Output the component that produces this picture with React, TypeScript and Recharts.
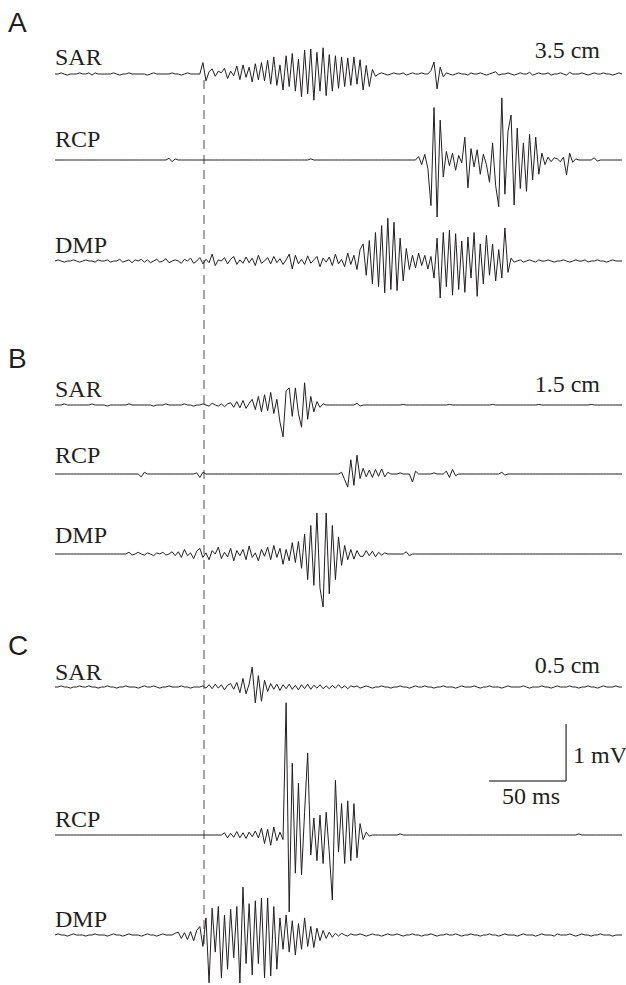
import React from 'react';
import { LineChart, Line, XAxis, YAxis, ReferenceLine } from 'recharts';

// ---- sampling ----
const DT_MS = 2; // one sample every 2 ms
const T_END = 368; // ms shown
const PX_PER_MV = 57;

// ---- EMG traces (mV), one value per 2 ms ----
const sarA = [
  0, 0, .02, 0, -.02, 0, 0, 0, .02, 0,
  0, .02, -.02, .02, 0, 0, 0, 0, 0, .02,
  0, -.02, 0, 0, .02, 0, 0, 0, 0, 0,
  -.02, 0, .02, 0, 0, 0, 0, 0, .02, 0,
  0, -.02, 0, .02, 0, 0, 0, 0, .2, -.12,
  .04, .09, -.04, .05, .02, .1, -.08, .05, -.03, .14,
  -.1, .16, -.06, .12, -.14, .18, -.1, .2, -.12, .24,
  -.18, .3, -.2, .16, -.28, .32, -.22, .36, -.3, .26,
  -.4, .42, -.35, .44, -.46, .38, -.3, .46, -.38, .34,
  -.3, .32, -.25, .3, -.22, .28, -.2, .3, -.18, .25,
  -.28, .15, -.22, .08, -.04, 0, .02, 0, -.02, 0,
  .02, 0, 0, .02, -.02, 0, .02, 0, 0, .02,
  0, 0, .06, .21, -.26, .12, -.05, .02, 0, -.02,
  0, .02, 0, 0, -.02, .02, 0, 0, .02, 0,
  -.02, 0, .02, .04, -.02, 0, 0, .02, 0, -.02,
  0, .02, 0, 0, .03, -.02, 0, .02, 0, 0,
  .02, -.02, 0, 0, .02, 0, -.02, .03, 0, 0,
  0, .02, 0, -.02, 0, .02, 0, 0, .02, 0,
  0, -.02, 0, .02, 0,
];

const rcpA = [
  0, 0, 0, 0, 0, 0, 0, 0, 0, 0,
  0, 0, 0, 0, 0, 0, 0, 0, 0, 0,
  0, 0, 0, 0, 0, 0, 0, 0, 0, 0,
  0, 0, 0, 0, 0, 0, 0, .03, -.03, .02,
  0, 0, 0, 0, 0, 0, 0, 0, 0, 0,
  0, 0, 0, 0, 0, 0, 0, 0, 0, 0,
  0, 0, 0, 0, 0, 0, 0, 0, 0, 0,
  0, 0, 0, 0, 0, 0, 0, 0, 0, 0,
  0, 0, 0, .02, 0, 0, 0, 0, 0, 0,
  0, 0, 0, 0, 0, 0, 0, 0, 0, 0,
  0, 0, 0, 0, 0, 0, 0, 0, 0, 0,
  0, 0, 0, 0, 0, 0, 0, 0, .06, -.08,
  .1, -.15, -.8, .92, -1.0, .7, -.3, .15, -.1, .12,
  -.18, .08, -.05, .4, -.49, .2, -.12, .18, -.25, .1,
  -.08, -.39, .3, -.45, -.82, 1.09, -.6, .5, .79, -.79,
  .56, -.5, .3, -.55, .45, -.35, .4, -.25, .12, -.08,
  .05, -.03, .04, .02, -.03, .05, -.26, .12, -.04, .02,
  0, 0, 0, 0, 0, .04, -.02, 0, 0, 0,
  0, 0, 0, 0, 0,
];

const dmpA = [
  0, .02, 0, -.02, 0, 0, .02, 0, -.02, 0,
  .02, 0, 0, -.02, .02, 0, 0, .02, -.02, 0,
  0, .03, -.02, 0, .02, -.03, .02, 0, .03, -.02,
  .02, -.03, 0, .03, -.02, 0, .04, -.03, 0, .02,
  0, -.04, .03, 0, .05, -.04, 0, .06, -.05, .03,
  -.03, .12, -.08, .02, 0, .06, -.05, .03, .08, -.06,
  .02, -.04, .07, -.03, .05, -.08, .1, -.04, 0, .06,
  -.05, .08, -.03, .04, -.06, .02, .12, -.14, .1, -.05,
  .03, -.06, .09, -.04, .02, .08, -.1, .05, -.02, .07,
  -.08, .12, -.05, .03, -.1, .14, -.06, .1, -.15, .2,
  .3, -.25, .36, -.4, .5, -.45, .62, -.56, .75, -.5,
  .68, -.52, .4, -.35, .22, -.15, .1, -.12, .14, -.08,
  .1, -.14, .08, -.3, .4, -.65, .5, -.45, .54, -.6,
  .48, -.5, .35, -.55, .42, -.3, .5, -.62, .3, -.4,
  .45, -.25, .3, -.35, .2, -.3, .58, -.2, .05, -.02,
  0, .02, -.02, 0, .02, 0, -.02, .02, 0, 0,
  .02, 0, -.02, 0, 0, .02, 0, -.02, 0, .02,
  0, 0, .02, -.02, 0, 0, .02, 0, 0, -.02,
  0, .02, 0, 0, 0,
];

const sarB = [
  0, 0, 0, .02, 0, 0, 0, 0, 0, 0,
  0, 0, .02, 0, 0, 0, 0, -.02, 0, 0,
  0, 0, 0, 0, .02, 0, 0, 0, 0, 0,
  0, 0, -.02, 0, 0, 0, .02, 0, 0, 0,
  0, 0, .02, 0, 0, -.02, 0, 0, .02, 0,
  -.02, .03, 0, -.02, .02, -.03, .02, .04, -.04, .06,
  -.05, .08, -.06, .03, .1, -.08, .15, -.12, .18, -.1,
  .22, -.15, .1, -.3, -.56, .25, .3, -.2, .3, -.15,
  -.39, .39, -.25, .15, -.12, .06, -.04, .02, 0, 0,
  0, 0, 0, 0, 0, 0, 0, 0, .03, -.02,
  0, 0, 0, 0, 0, 0, 0, 0, 0, 0,
  0, 0, 0, .01, 0, 0, 0, 0, 0, 0,
  0, 0, 0, 0, 0, 0, 0, 0, .01, 0,
  0, 0, 0, 0, 0, 0, 0, 0, 0, 0,
  0, 0, .01, 0, 0, 0, 0, 0, 0, 0,
  0, 0, 0, 0, 0, 0, 0, .01, 0, 0,
  0, 0, 0, 0, 0, 0, 0, 0, 0, 0,
  0, 0, 0, 0, .01, 0, 0, 0, 0, 0,
  0, 0, 0, 0, 0,
];

const rcpB = [
  0, 0, 0, 0, 0, 0, 0, 0, 0, 0,
  0, 0, 0, 0, 0, 0, 0, 0, 0, 0,
  0, 0, 0, 0, 0, 0, 0, 0, -.05, .03,
  0, 0, 0, 0, 0, 0, 0, 0, 0, 0,
  0, 0, 0, 0, 0, 0, .02, -.06, .03, 0,
  0, 0, 0, 0, 0, 0, 0, 0, 0, 0,
  0, 0, 0, 0, 0, 0, 0, 0, 0, 0,
  0, 0, 0, 0, 0, 0, 0, 0, 0, 0,
  0, 0, 0, 0, 0, 0, 0, 0, 0, 0,
  0, 0, 0, .03, -.1, -.23, .25, -.2, .33, -.08,
  .1, -.05, .07, -.06, .08, -.04, .09, -.05, .03, 0,
  0, 0, .02, 0, 0, 0, -.14, .05, 0, 0,
  0, 0, 0, .02, 0, 0, 0, .05, -.06, .08,
  -.03, 0, 0, 0, 0, 0, 0, 0, 0, 0,
  0, 0, 0, 0, 0, .03, -.02, 0, 0, 0,
  0, 0, 0, 0, 0, 0, 0, 0, 0, 0,
  0, 0, 0, 0, 0, 0, 0, 0, 0, 0,
  0, 0, 0, 0, 0, 0, 0, 0, 0, 0,
  0, 0, 0, 0, 0,
];

const dmpB = [
  0, 0, 0, 0, 0, 0, 0, 0, 0, 0,
  0, 0, 0, 0, 0, 0, 0, 0, 0, 0,
  0, 0, 0, 0, .03, -.02, 0, .03, 0, -.02,
  .02, 0, -.03, .02, 0, .03, -.02, 0, .04, -.03,
  .04, -.06, .08, -.03, .02, -.08, .05, .1, -.06, .02,
  -.1, .06, 0, .12, -.08, .03, -.05, .1, -.12, .06,
  -.03, .08, -.1, .14, -.06, .02, -.12, .08, -.04, .12,
  -.1, .15, -.06, .1, -.18, .08, -.12, .2, -.15, .22,
  -.25, .35, -.45, .5, -.55, .72, -.6, -.93, .72, -.7,
  .5, -.45, .3, -.2, .15, -.1, .08, -.09, .06, -.04,
  -.04, .06, -.03, .05, -.05, .03, -.02, .02, 0, 0,
  0, 0, 0, 0, .04, -.03, 0, 0, 0, 0,
  0, 0, 0, 0, 0, 0, 0, 0, 0, 0,
  0, 0, 0, 0, 0, 0, 0, 0, 0, 0,
  0, 0, 0, 0, 0, 0, 0, 0, 0, 0,
  0, 0, 0, 0, 0, 0, 0, 0, 0, 0,
  0, 0, 0, 0, 0, 0, 0, 0, 0, 0,
  0, 0, 0, 0, 0, 0, 0, 0, 0, 0,
  0, 0, 0, 0, 0,
];

const sarC = [
  0, 0, .02, 0, 0, -.02, 0, 0, .02, 0,
  0, .02, 0, 0, -.02, 0, 0, .02, 0, 0,
  -.02, 0, 0, .02, 0, 0, 0, -.02, 0, .02,
  0, 0, .02, 0, -.02, 0, 0, .02, 0, 0,
  0, .02, 0, 0, -.02, 0, 0, 0, .02, -.02,
  .04, -.03, .05, -.02, .04, -.05, .03, .06, -.04, .08,
  -.1, .15, -.12, .05, .35, -.28, .2, -.25, .12, -.08,
  .06, -.04, .05, -.06, .04, -.03, .05, -.04, .03, -.05,
  .04, -.03, .05, -.04, .03, -.02, .04, -.03, .02, -.03,
  .03, -.02, .04, -.02, .02, -.03, .02, 0, .02, -.02,
  0, .02, 0, -.02, 0, 0, .02, 0, 0, -.02,
  0, 0, .02, 0, 0, -.02, 0, .02, 0, 0,
  .02, 0, 0, -.02, 0, 0, .02, 0, 0, 0,
  -.02, 0, .02, 0, 0, 0, .02, 0, -.02, 0,
  0, .02, 0, 0, 0, -.02, 0, .02, 0, 0,
  0, 0, .02, 0, -.02, 0, 0, 0, .02, 0,
  0, -.02, 0, .02, 0, 0, 0, .02, 0, 0,
  -.02, 0, 0, .02, 0, 0, -.02, 0, .02, 0,
  0, 0, .02, 0, 0,
];

const rcpC = [
  0, 0, 0, 0, 0, 0, 0, 0, 0, 0,
  0, 0, 0, 0, 0, 0, 0, 0, 0, 0,
  0, 0, 0, 0, 0, 0, 0, 0, 0, 0,
  0, 0, 0, 0, 0, 0, 0, 0, 0, 0,
  0, 0, 0, 0, 0, 0, 0, 0, 0, 0,
  0, 0, 0, 0, 0, .04, -.05, .03, -.04, .06,
  -.05, .04, -.06, .05, -.03, .07, -.05, .12, -.15, .1,
  -.18, .14, -.1, .05, -.08, 2.32, -1.35, 1.26, -.67, .91,
  -.7, .4, 1.44, -.35, .3, -.45, .35, -.5, .4, -.3,
  -1.14, .96, -.3, .55, -.5, .6, -.45, .55, -.4, .2,
  -.08, .05, -.02, 0, 0, 0, 0, 0, 0, 0,
  0, 0, .02, 0, 0, 0, 0, 0, 0, 0,
  0, 0, 0, 0, 0, 0, 0, 0, 0, 0,
  0, 0, 0, 0, 0, 0, 0, 0, 0, 0,
  0, 0, 0, 0, 0, 0, 0, 0, 0, 0,
  0, 0, 0, 0, 0, 0, 0, 0, 0, 0,
  0, 0, 0, 0, 0, 0, 0, 0, 0, 0,
  .02, 0, 0, 0, 0, 0, 0, 0, 0, 0,
  0, 0, 0, 0, 0,
];

const dmpC = [
  0, .02, 0, 0, -.02, 0, .02, 0, 0, 0,
  -.02, 0, 0, .02, 0, 0, 0, -.02, 0, .02,
  0, 0, -.02, 0, .02, 0, 0, 0, -.02, 0,
  .02, 0, 0, -.02, 0, .02, 0, 0, 0, .03,
  .05, -.06, .04, -.08, .06, -.1, .08, .15, -.2, .3,
  -.84, .47, -.3, .5, -.75, .35, -.6, .45, -.4, .5,
  -.84, .84, -.5, .55, -.7, .6, -.5, .65, -.75, .65,
  -.72, .5, -.6, .3, -.25, .35, -.3, .25, -.35, .2,
  -.25, .3, -.2, .15, -.22, .12, -.1, .08, -.06, .05,
  -.04, .03, -.02, .03, 0, -.02, .02, 0, 0, .02,
  0, -.02, 0, .02, 0, 0, -.02, 0, .02, 0,
  0, .02, 0, -.02, 0, 0, .02, 0, 0, -.02,
  0, 0, .02, 0, -.02, 0, 0, .02, 0, 0,
  .02, 0, -.02, 0, 0, .02, 0, 0, -.02, 0,
  0, .02, 0, 0, -.02, 0, .02, 0, 0, 0,
  -.02, 0, .02, 0, 0, 0, -.02, 0, .02, 0,
  0, 0, -.02, .02, 0, 0, 0, .02, 0, -.02,
  0, .02, 0, 0, -.02, 0, 0, .02, 0, 0,
  0, -.02, 0, 0, 0,
];

// ---- labels ----
const panelLabels = ['A', 'B', 'C'];
const muscleLabels = ['SAR', 'RCP', 'DMP'];
const distanceLabels = ['3.5 cm', '1.5 cm', '0.5 cm'];
const SCALE_MS = 50;
const SCALE_MV = 1;
const SCALE_T0 = 281.7; // ms, start of horizontal scale bar
const DASH_T = 96.7; // ms, onset marker

// ---- layout ----
const W = 626;
const H = 985;
const PLOT_LEFT = 55;
const PLOT_RIGHT = 4;
const traceLayout = [
  { key: 'sarA', values: sarA, base: 74 },
  { key: 'rcpA', values: rcpA, base: 160 },
  { key: 'dmpA', values: dmpA, base: 261 },
  { key: 'sarB', values: sarB, base: 405 },
  { key: 'rcpB', values: rcpB, base: 474 },
  { key: 'dmpB', values: dmpB, base: 554 },
  { key: 'sarC', values: sarC, base: 687 },
  { key: 'rcpC', values: rcpC, base: 835 },
  { key: 'dmpC', values: dmpC, base: 935 },
];
const SCALE_BASE = 781;
const panelLabelY = [32, 368, 655];
const muscleLabelY = [
  [65, 147, 253],
  [397, 463, 543],
  [680, 827, 927],
];
const distanceLabelY = [58, 392, 673];

const rows = sarA.map((_, i) => {
  const r: Record<string, number> = { t: i * DT_MS };
  traceLayout.forEach((tr) => {
    r[tr.key] = tr.values[i];
  });
  return r;
});

const domainFor = (base: number): [number, number] => [
  -(H - base) / PX_PER_MV,
  base / PX_PER_MV,
];

const ink = '#231f20';
const serif = "'Liberation Serif', 'Times New Roman', serif";
const sans = "'Liberation Sans', Arial, sans-serif";
const pxPerMs = (W - PLOT_LEFT - PLOT_RIGHT) / T_END;

export default function App() {
  const dashX = PLOT_LEFT + DASH_T * pxPerMs;
  return (
    <div style={{ position: 'absolute', left: 0, top: 0, width: W, height: H, background: '#fff' }}>
      <svg width={W} height={H} style={{ position: 'absolute', left: 0, top: 0 }}>
        <line x1={dashX} x2={dashX} y1={80} y2={945} stroke="#808080" strokeWidth={1.4} strokeDasharray="9 6" />
      </svg>
      <div style={{ position: 'absolute', left: 0, top: 0 }}>
        <LineChart
          width={W}
          height={H}
          data={rows}
          margin={{ top: 0, right: PLOT_RIGHT, bottom: 0, left: PLOT_LEFT }}
        >
          <XAxis dataKey="t" type="number" domain={[0, T_END]} hide allowDataOverflow />
          {traceLayout.map((tr) => (
            <YAxis key={tr.key} yAxisId={tr.key} type="number" domain={domainFor(tr.base)} hide allowDataOverflow />
          ))}
          <YAxis yAxisId="scale" type="number" domain={domainFor(SCALE_BASE)} hide allowDataOverflow />
          {traceLayout.map((tr) => (
            <Line
              key={tr.key}
              yAxisId={tr.key}
              dataKey={tr.key}
              type="linear"
              stroke={ink}
              strokeWidth={1}
              dot={false}
              activeDot={false}
              isAnimationActive={false}
            />
          ))}
          <ReferenceLine
            yAxisId="scale"
            segment={[{ x: SCALE_T0, y: 0 }, { x: SCALE_T0 + SCALE_MS, y: 0 }]}
            stroke="#555"
            strokeWidth={1.5}
          />
          <ReferenceLine
            yAxisId="scale"
            segment={[{ x: SCALE_T0 + SCALE_MS, y: 0 }, { x: SCALE_T0 + SCALE_MS, y: SCALE_MV }]}
            stroke="#555"
            strokeWidth={1.5}
          />
        </LineChart>
      </div>
      <svg width={W} height={H} style={{ position: 'absolute', left: 0, top: 0, pointerEvents: 'none' }}>
        {panelLabels.map((p, k) => (
          <text key={p} x={8} y={panelLabelY[k]} fontFamily={sans} fontSize={28} fill={ink}>
            {p}
          </text>
        ))}
        {panelLabels.map((p, k) =>
          muscleLabels.map((m, j) => (
            <text key={p + m} x={55} y={muscleLabelY[k][j]} fontFamily={serif} fontSize={24} fill={ink}>
              {m}
            </text>
          ))
        )}
        {distanceLabels.map((d, k) => (
          <text key={d} x={600} y={distanceLabelY[k]} textAnchor="end" fontFamily={serif} fontSize={24} fill={ink}>
            {d}
          </text>
        ))}
        <text x={573} y={763} fontFamily={serif} fontSize={24} fill={ink}>
          {`${SCALE_MV} mV`}
        </text>
        <text x={502} y={804} fontFamily={serif} fontSize={24} fill={ink}>
          {`${SCALE_MS} ms`}
        </text>
      </svg>
    </div>
  );
}
